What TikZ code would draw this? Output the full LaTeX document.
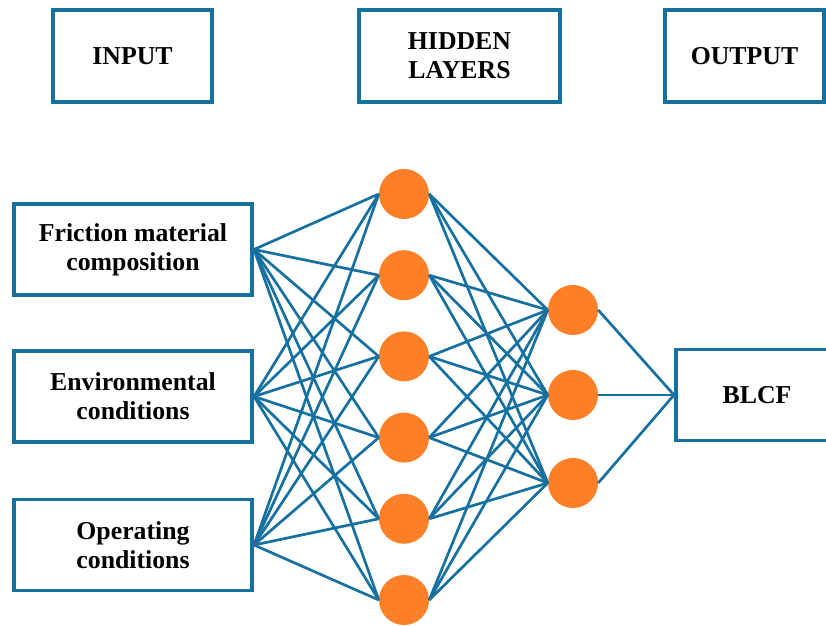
\documentclass[tikz,border=0pt]{standalone}
\usepackage{fontspec}
\setmainfont{Liberation Serif}
\definecolor{netblue}{RGB}{22,112,160}
\definecolor{netorange}{RGB}{253,127,39}

\begin{document}
\begin{tikzpicture}[x=0.03cm,y=-0.03cm,
	box/.style={draw=netblue,line width=3.4pt,fill=white,align=center,inner sep=0pt,
		font=\bfseries\fontsize{22}{24.7}\selectfont},
	neuron/.style={circle,fill=netorange,minimum size=1.5cm,inner sep=0pt},
	link/.style={netblue,line width=2.3pt}]
			\useasboundingbox (0,0) rectangle (826,626);
			% headers
			\node[box,minimum width=4.77cm,minimum height=2.76cm] (inp) at (132.5,56){INPUT};
			\node[box,minimum width=6.03cm,minimum height=2.76cm] (hid) at (459.5,56){HIDDEN\\LAYERS};
			\node[box,minimum width=4.77cm,minimum height=2.76cm] (outp) at (744.5,56){OUTPUT};
			% inputs
			\foreach \i/\y/\t in {1/249.5/{Friction material\\composition},2/396.5/{Environmental\\conditions},3/545/{Operating\\conditions}}{
				\node[box,minimum width=7.14cm,minimum height=2.73cm] (in\i) at (133,\y){\t};}
			% neurons
			\foreach \j in {1,...,6}{
				\node[neuron] (h\j) at (404,{194+81.2*(\j-1)}){};}
			\foreach \k/\y in {1/310,2/395,3/483}{
				\node[neuron] (g\k) at (573,\y){};}
			\node[box,minimum width=4.86cm,minimum height=2.73cm] (blcf) at (757,395){BLCF};
			% links
			\foreach \i in {1,2,3}{\foreach \j in {1,...,6}{
					\draw[link] (in\i.east)--(h\j.west);}}
			\foreach \j in {1,...,6}{\foreach \k in {1,2,3}{
					\draw[link] (h\j.east)--(g\k.west);}}
			\foreach \k in {1,2,3}{
				\draw[link] (g\k.east)--(blcf.west);}
		\end{tikzpicture}
\end{document}
